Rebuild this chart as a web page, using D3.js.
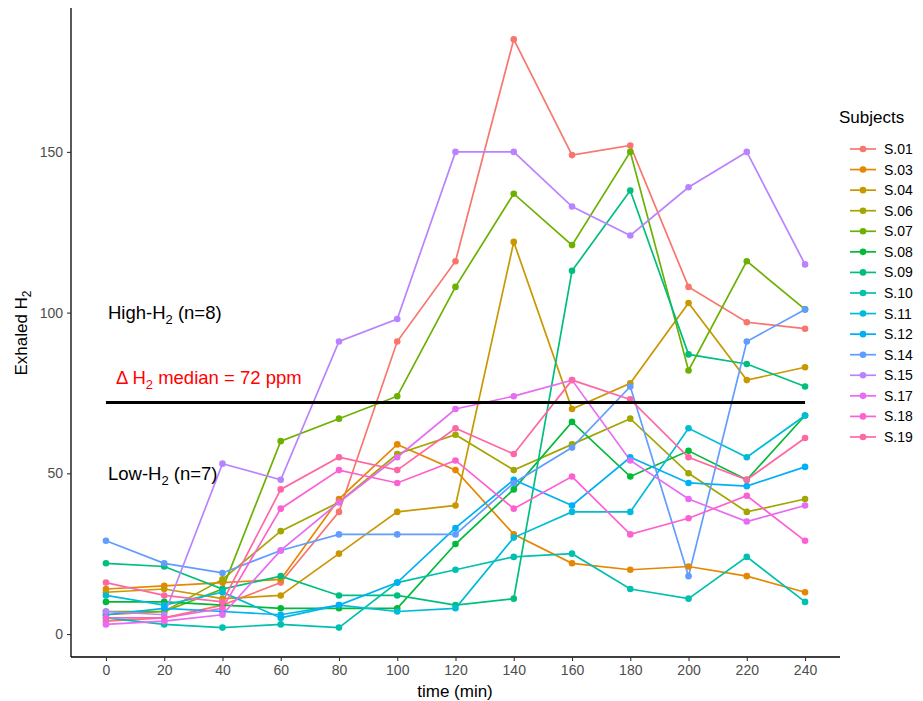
<!DOCTYPE html>
<html><head><meta charset="utf-8">
<script src="https://cdn.jsdelivr.net/npm/d3@7"></script>
<style>body{margin:0;background:#fff}svg{display:block;font-family:"Liberation Sans",Arial,sans-serif}</style>
</head><body><svg id="c" width="923" height="701"></svg>
<script>
const times = [0,20,40,60,80,100,120,140,160,180,200,220,240];
const subjects = ["S.01","S.03","S.04","S.06","S.07","S.08","S.09","S.10","S.11","S.12","S.14","S.15","S.17","S.18","S.19"];
const colors = ["#F8766D","#E58700","#C99800","#A3A500","#6BB100","#00BA38","#00BF7D","#00C0AF","#00BCD8","#00B0F6","#619CFF","#B983FF","#E76BF3","#FD61D1","#FF67A4"];
const s01 = [4,5,9,16,38,91,116,185,149,152,108,97,95];
const s03 = [14,15,16,17,42,59,51,31,22,20,21,18,13];
const s04 = [13,14,11,12,25,38,40,122,70,78,103,79,83];
const s06 = [6,7,17,32,41,56,62,51,59,67,50,38,42];
const s07 = [7,7,14,60,67,74,108,137,121,150,82,116,101];
const s08 = [10,10,9,8,8,8,28,45,66,49,57,48,68];
const s09 = [22,21,14,18,12,12,9,11,113,138,87,84,77];
const s10 = [5,3,2,3,2,16,20,24,25,14,11,24,10];
const s11 = [12,9,13,5,9,7,8,30,38,38,64,55,68];
const s12 = [6,8,7,6,9,16,33,48,40,55,47,46,52];
const s14 = [29,22,19,26,31,31,31,47,58,77,18,91,101];
const s15 = [7,6,53,48,91,98,150,150,133,124,139,150,115];
const s17 = [3,4,6,26,41,55,70,74,79,54,42,35,40];
const s18 = [5,5,8,39,51,47,54,39,49,31,36,43,29];
const s19 = [16,12,10,45,55,51,64,56,79,73,55,48,61];
const seriesValues = [s01,s03,s04,s06,s07,s08,s09,s10,s11,s12,s14,s15,s17,s18,s19];
const xTicks = [0,20,40,60,80,100,120,140,160,180,200,220,240];
const yTicks = [0,50,100,150];
const medianValue = 72;

const svg = d3.select("#c");
const x = d3.scaleLinear().domain([-12,252]).range([71,840]);
const y = d3.scaleLinear().domain([-7.15,194.15]).range([657,10]);

// series
const line = d3.line().x((d,i)=>x(times[i])).y(d=>y(d));
const g = svg.append("g");
seriesValues.forEach((vals,k)=>{
  g.append("path").attr("d",line(vals)).attr("fill","none")
    .attr("stroke",colors[k]).attr("stroke-width",1.7);
});
seriesValues.forEach((vals,k)=>{
  g.selectAll(null).data(vals).enter().append("circle")
    .attr("cx",(d,i)=>x(times[i])).attr("cy",d=>y(d)).attr("r",3.3)
    .attr("fill",colors[k]);
});

// median line
svg.append("line").attr("x1",x(0)).attr("x2",x(240)).attr("y1",y(medianValue)).attr("y2",y(medianValue))
  .attr("stroke","#000").attr("stroke-width",3);

// axes
const xAxis = svg.append("g").attr("transform","translate(0,657)")
  .call(d3.axisBottom(x).tickValues(xTicks).tickSize(4).tickPadding(4));
const yAxis = svg.append("g").attr("transform","translate(71,0)")
  .call(d3.axisLeft(y).tickValues(yTicks).tickSize(4).tickPadding(4));
[xAxis,yAxis].forEach(a=>{
  a.select(".domain").attr("stroke","#000").attr("stroke-width",1.3);
  a.selectAll(".tick line").attr("stroke","#333").attr("stroke-width",1.1);
  a.selectAll(".tick text").attr("fill","#4D4D4D").style("font-size","14px");
});
yAxis.select(".domain").attr("d","M0,8V657");
xAxis.select(".domain").attr("d","M71,0H840");

// axis titles
svg.append("text").attr("x",455).attr("y",697).attr("text-anchor","middle")
  .style("font-size","17px").text("time (min)");
const yt = svg.append("text").attr("transform","translate(27,333) rotate(-90)").attr("text-anchor","middle")
  .style("font-size","17px");
yt.append("tspan").text("Exhaled H");
yt.append("tspan").attr("dy",4).style("font-size","12px").text("2");

// annotations
function subText(xp, yp, pre, post, color){
  const t = svg.append("text").attr("x",xp).attr("y",yp).style("font-size","18.5px").attr("fill",color);
  t.append("tspan").text(pre);
  t.append("tspan").attr("dy",5).style("font-size","13px").text("2");
  t.append("tspan").attr("dy",-5).text(post);
}
subText(x(0)+2, y(100)+6, "High-H", " (n=8)", "#000");
subText(x(0)+2, y(50)+7, "Low-H", " (n=7)", "#000");
subText(x(0)+10, y(80)+7, "\u0394  H", " median = 72 ppm", "#FF0000");

// legend
const lg = svg.append("g");
lg.append("text").attr("x",839).attr("y",123).style("font-size","17px").text("Subjects");
subjects.forEach((s,k)=>{
  const yy = 149 + k*20.57;
  lg.append("line").attr("x1",850).attr("x2",876).attr("y1",yy).attr("y2",yy)
    .attr("stroke",colors[k]).attr("stroke-width",1.7);
  lg.append("circle").attr("cx",863).attr("cy",yy).attr("r",3.3).attr("fill",colors[k]);
  lg.append("text").attr("x",884).attr("y",yy+5).style("font-size","14px").text(s);
});
</script></body></html>
